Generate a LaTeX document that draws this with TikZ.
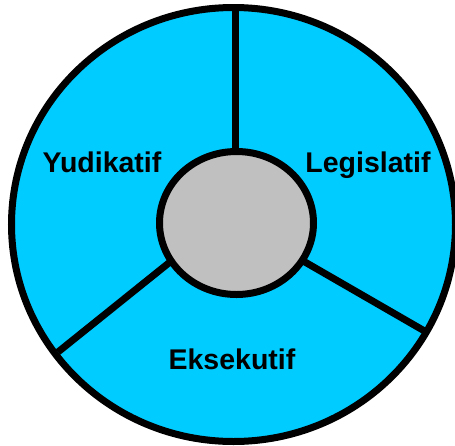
\documentclass[tikz,border=0pt]{standalone}
\usepackage{fontspec}
\setmainfont{Liberation Sans}
\usetikzlibrary{shapes.geometric}
\definecolor{sectorblue}{HTML}{00CCFF}
\definecolor{hubgrey}{HTML}{C0C0C0}
\tikzset{
  rim/.style={draw=black, line width=7pt, fill=sectorblue},
  hub/.style={draw=black, line width=7pt, fill=hubgrey},
  spoke/.style={draw=black, line width=7pt},
  lbl/.style={font=\fontsize{28.5}{30}\selectfont\bfseries, anchor=base, inner sep=0pt}
}
\begin{document}
\begin{tikzpicture}[x=1pt,y=-1pt]
\useasboundingbox (0,0) rectangle (455,445);
\path[rim] (233.5,224.5) ellipse [x radius=222, y radius=217];
\coordinate (t1) at (235.5,8);
\coordinate (t0) at (235.5,160);
\coordinate (l0) at (175,258);
\coordinate (l1) at (58,352);
\coordinate (r0) at (298,258);
\coordinate (r1) at (428,333);
\draw[spoke] (t0) -- (t1);
\draw[spoke] (l0) -- (l1);
\draw[spoke] (r0) -- (r1);
\node[hub, ellipse, minimum width=154pt, minimum height=143pt, inner sep=0pt] (hubnode) at (236.5,223) {};
\node[lbl] (yud) at (102,172) {Yudikatif};
\node[lbl] (leg) at (368,172) {Legislatif};
\node[lbl] (eks) at (232,369) {Eksekutif};
\end{tikzpicture}
\end{document}
